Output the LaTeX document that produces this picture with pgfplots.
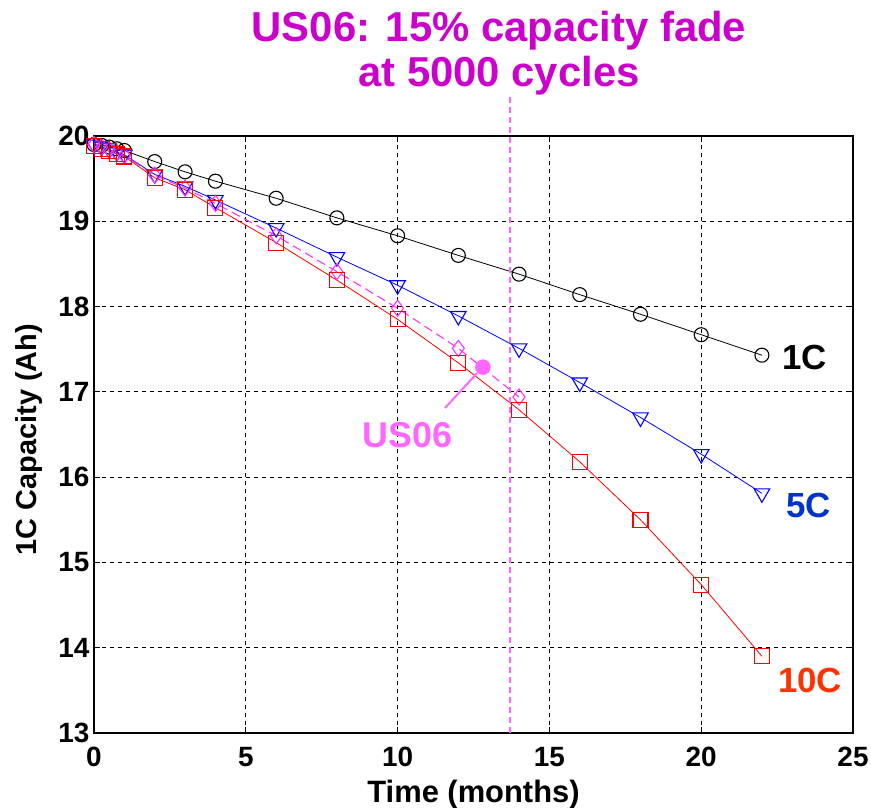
\documentclass[border=0pt]{standalone}
\usepackage{fontspec}
\setmainfont{Liberation Sans}
\usepackage{pgfplots}
\pgfplotsset{compat=1.18}
\definecolor{titlemag}{HTML}{CC00CC}
\definecolor{usline}{HTML}{FF33FF}
\definecolor{uslabel}{HTML}{FF66FF}
\definecolor{fivec}{HTML}{0033CC}
\definecolor{tenc}{HTML}{FF3300}
\begin{document}
\begin{tikzpicture}
\begin{axis}[
  scale only axis, width=759bp, height=597bp,
  xmin=0, xmax=25, ymin=13, ymax=20,
  xtick={0,5,10,15,20,25}, ytick={13,14,15,16,17,18,19,20},
  grid=major,
  major grid style={black, line width=0.9bp, dash pattern=on 4bp off 4bp},
  axis line style={line width=1.5bp},
  tick style={black, line width=1bp}, tick align=inside, major tick length=6bp,
  ticklabel style={font=\fontsize{28}{30}\selectfont\bfseries},
  xticklabel style={yshift=-11bp},
  yticklabel style={xshift=-1bp},
  /pgf/number format/assume math mode=true,
  xlabel={Time (months)}, ylabel={1C Capacity (Ah)},
  xlabel style={font=\fontsize{31}{33}\selectfont\bfseries, yshift=-6bp},
  ylabel style={font=\fontsize{29}{31}\selectfont\bfseries, yshift=9bp, xshift=-5bp},
  clip=false,
]
\addplot[black, line width=0.8bp, mark=o, mark size=7bp, mark options={line width=1.1bp}] coordinates {
(0,19.90)(0.25,19.89)(0.5,19.87)(0.75,19.85)(1,19.83)(2,19.70)(3,19.58)(4,19.47)(6,19.27)(8,19.04)(10,18.83)(12,18.60)(14,18.38)(16,18.14)(18,17.91)(20,17.67)(22,17.43)};
\addplot[blue, line width=0.8bp, mark=triangle, mark size=9bp, mark options={line width=1.1bp, rotate=180}] coordinates {
(0,19.90)(0.25,19.87)(0.5,19.84)(0.75,19.81)(1,19.78)(2,19.55)(3,19.41)(4,19.25)(6,18.92)(8,18.58)(10,18.25)(12,17.89)(14,17.51)(16,17.11)(18,16.70)(20,16.27)(22,15.81)};
\addplot[usline, line width=1.1bp, dash pattern=on 9bp off 5bp, mark=diamond, mark size=8bp, mark options={solid, line width=1.1bp}] coordinates {
(0,19.90)(0.25,19.87)(0.5,19.84)(0.75,19.80)(1,19.77)(2,19.54)(3,19.39)(4,19.21)(6,18.83)(8,18.41)(10,17.98)(12,17.51)(14,16.94)};
\addplot[red, line width=0.8bp, mark=square, mark size=7.5bp, mark options={line width=1.1bp}] coordinates {
(0,19.88)(0.25,19.85)(0.5,19.82)(0.75,19.79)(1,19.76)(2,19.51)(3,19.37)(4,19.16)(6,18.75)(8,18.31)(10,17.85)(12,17.34)(14,16.79)(16,16.18)(18,15.50)(20,14.74)(22,13.90)};
% vertical marker line
\addplot[uslabel, line width=1.2bp, dash pattern=on 6bp off 4bp] coordinates {(13.7,13) (13.7,20.46)};
% US06 pointer
\addplot[uslabel, line width=2bp] coordinates {(11.56,16.81) (12.62,17.22)};
\addplot[only marks, mark=*, mark size=7.5bp, color=uslabel] coordinates {(12.81,17.29)};
\node[anchor=base west, inner sep=0pt, font=\fontsize{35}{38}\selectfont\bfseries, text=black] at (axis cs:22.66,17.26) {1C};
\node[anchor=base west, inner sep=0pt, font=\fontsize{35}{38}\selectfont\bfseries, text=fivec] at (axis cs:22.79,15.53) {5C};
\node[anchor=base west, inner sep=0pt, font=\fontsize{35}{38}\selectfont\bfseries, text=tenc] at (axis cs:22.53,13.47) {10C};
\node[anchor=base west, inner sep=0pt, font=\fontsize{36}{38}\selectfont\bfseries, text=uslabel] at (axis cs:8.83,16.35) {US06};
\node[anchor=north, inner sep=0pt, align=center, font=\fontsize{42}{46}\selectfont\bfseries, text=titlemag] at (axis cs:13.34,21.47) {US06: 15\% capacity fade\\at 5000 cycles};
\end{axis}
\pgfresetboundingbox
\useasboundingbox (-94bp,-75bp) rectangle (777bp,733bp);
\end{tikzpicture}
\end{document}
